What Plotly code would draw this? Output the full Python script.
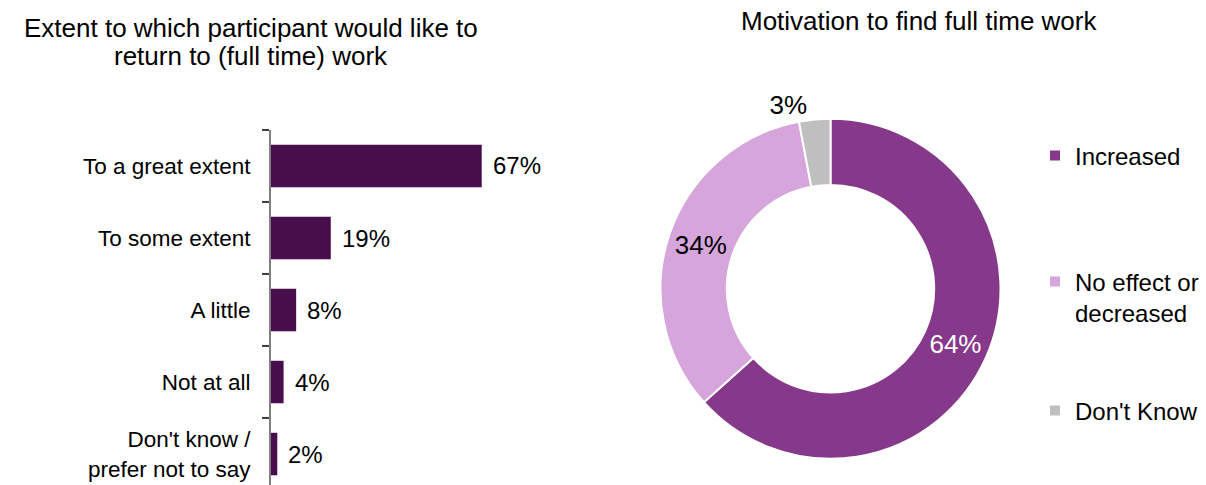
import plotly.graph_objects as go

# ---- data ----
categories = [
    "To a great extent",
    "To some extent",
    "A little",
    "Not at all",
    "Don't know /<br>prefer not to say",
]
extent_pct = [67, 19, 8, 4, 2]

motivation_labels = ["Increased", "No effect or<br>decreased", "Don't Know"]
motivation_pct = [64, 34, 3]

# ---- styling ----
W, H = 1206, 485
FONT = "Liberation Sans, Arial, sans-serif"
BAR_COLOR = "#480e4c"
PIE_COLORS = ["#86388a", "#d6a5dc", "#bfbfbf"]
PIE_TEXT_COLORS = ["white", "black", "black"]
PIE_TEXT_POS = ["inside", "inside", "outside"]


def fx(px):
    return px / W


def fy(px):
    return 1 - px / H


fig = go.Figure()

# horizontal bar chart (left)
fig.add_trace(
    go.Bar(
        x=extent_pct,
        y=categories,
        orientation="h",
        width=0.59,
        marker=dict(color=BAR_COLOR, line=dict(width=0)),
        hoverinfo="skip",
        showlegend=False,
    )
)

# doughnut chart (right)
fig.add_trace(
    go.Pie(
        labels=motivation_labels,
        values=motivation_pct,
        hole=0.61,
        sort=False,
        direction="clockwise",
        rotation=0,
        marker=dict(colors=PIE_COLORS, line=dict(color="white", width=2)),
        texttemplate="%{value}%",
        textposition=PIE_TEXT_POS,
        textfont=dict(family=FONT, size=26, color=PIE_TEXT_COLORS),
        insidetextorientation="horizontal",
        domain=dict(x=[fx(660.5), fx(1000.5)], y=[fy(458.7), fy(118.7)]),
        showlegend=False,
        hoverinfo="skip",
    )
)

# legend entries for the doughnut, one legend box per entry
legend_ids = ["legend", "legend2", "legend3"]
for lab, col, lid in zip(motivation_labels, PIE_COLORS, legend_ids):
    fig.add_trace(
        go.Scatter(
            x=[None],
            y=[None],
            mode="markers",
            marker=dict(symbol="square", size=10, color=col),
            name=lab,
            legend=lid,
            showlegend=True,
            hoverinfo="skip",
        )
    )

legend_common = dict(
    xanchor="left",
    yanchor="middle",
    bgcolor="rgba(0,0,0,0)",
    borderwidth=0,
    font=dict(family=FONT, size=24, color="black"),
    itemclick=False,
    itemdoubleclick=False,
)

# value labels next to the bars
annotations = []
for i, v in enumerate(extent_pct):
    annotations.append(
        dict(
            x=v,
            y=i,
            xref="x",
            yref="y",
            text=f"{v}%",
            showarrow=False,
            xanchor="left",
            yanchor="middle",
            xshift=9,
            font=dict(family=FONT, size=24, color="black"),
        )
    )

# chart titles
title_font = dict(family=FONT, size=26, color="black")
annotations += [
    dict(x=fx(251), y=fy(28), xref="paper", yref="paper",
         text="Extent to which participant would like to",
         showarrow=False, xanchor="center", yanchor="middle", font=title_font),
    dict(x=fx(251), y=fy(56), xref="paper", yref="paper",
         text="return to (full time) work",
         showarrow=False, xanchor="center", yanchor="middle", font=title_font),
    dict(x=fx(919), y=fy(21), xref="paper", yref="paper",
         text="Motivation to find full time work",
         showarrow=False, xanchor="center", yanchor="middle", font=title_font),
]

fig.update_layout(
    width=W,
    height=H,
    autosize=False,
    margin=dict(l=0, r=0, t=0, b=0),
    paper_bgcolor="white",
    plot_bgcolor="white",
    font=dict(family=FONT, color="black"),
    bargap=0.41,
    xaxis=dict(
        domain=[fx(271), fx(585.5)],
        range=[0, 100],
        showgrid=False,
        zeroline=False,
        showline=False,
        showticklabels=False,
        ticks="",
        fixedrange=True,
    ),
    yaxis=dict(
        domain=[0, fy(130)],
        type="category",
        range=[4.43, -0.5],
        tickson="boundaries",
        ticks="outside",
        ticklen=7,
        tickwidth=1.5,
        tickcolor="#404040",
        showline=True,
        linecolor="#7f7f7f",
        linewidth=2,
        showgrid=False,
        zeroline=False,
        ticklabelstandoff=14,
        tickfont=dict(family=FONT, size=22.5, color="black"),
        fixedrange=True,
    ),
    legend=dict(x=fx(1035), y=fy(156), **legend_common),
    legend2=dict(x=fx(1035), y=fy(297.5), valign="top", **legend_common),
    legend3=dict(x=fx(1035), y=fy(411), **legend_common),
    annotations=annotations,
)

fig.write_html("out.html")
